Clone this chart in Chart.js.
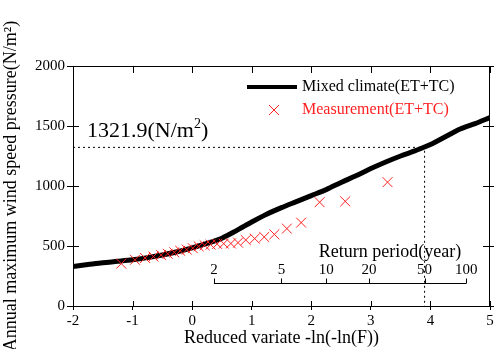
<!DOCTYPE html>
<html><head><meta charset="utf-8">
<script src="https://cdn.jsdelivr.net/npm/chart.js@4"></script>
<style>html,body{margin:0;padding:0;background:#fff}</style>
</head><body>
<canvas id="c" width="498" height="349"></canvas>
<script>
// ---- data ----
const curveX = [-2,-1.75,-1.5,-1.25,-1,-0.75,-0.5,-0.25,0,0.25,0.5,0.75,1,1.25,1.5,1.75,2,2.25,2.5,2.75,3,3.25,3.5,3.75,4,4.25,4.5,4.75,5];
const curveY = [330,345,360,372,385,403,425,452,485,522,565,630,700,765,820,870,920,970,1030,1085,1145,1200,1250,1295,1345,1410,1475,1520,1570];
const measX = [-1.19,-0.96,-0.79,-0.65,-0.52,-0.41,-0.30,-0.20,-0.09,0.01,0.11,0.21,0.31,0.42,0.53,0.65,0.77,0.90,1.05,1.21,1.38,1.59,1.83,2.14,2.57,3.28];
const measY = [353,385,400,412,425,435,447,460,470,482,497,506,512,517,520,521,528,550,562,575,597,645,695,865,872,1032];
const designValue = 1321.9;
const designReturnPeriod = 50;
const returnPeriods = [2,5,10,20,50,100];
const xTicks = [-2,-1,0,1,2,3,4,5];
const yTicks = [0,500,1000,1500,2000];
const curveLabel = 'Mixed climate(ET+TC)';
const measLabel = 'Measurement(ET+TC)';

// reduced variate of a return period (axis mapping)
const gumbel = T => -Math.log(-Math.log(1 - 1/T));
const designX = gumbel(designReturnPeriod);

const SERIF = '"Liberation Serif","Times New Roman",serif';
const RED = '#ff2020';

const decor = {
  id: 'decor',
  afterDatasetsDraw(chart) {
    const ctx = chart.ctx, a = chart.chartArea;
    const xs = chart.scales.x, ys = chart.scales.y;
    ctx.save();
    ctx.strokeStyle = '#000'; ctx.lineWidth = 1;
    // frame
    ctx.strokeRect(a.left + 0.5, a.top + 0.5, a.right - a.left - 1, a.bottom - a.top);
    // inner ticks on all four sides
    ctx.beginPath();
    xTicks.forEach(v => {
      const p = Math.round(xs.getPixelForValue(v)) + 0.5;
      ctx.moveTo(p, a.bottom); ctx.lineTo(p, a.bottom - 5);
      ctx.moveTo(p, a.top); ctx.lineTo(p, a.top + 7);
    });
    yTicks.forEach(v => {
      const p = Math.round(ys.getPixelForValue(v)) + 0.5;
      ctx.moveTo(a.left, p); ctx.lineTo(a.left + 6, p);
      ctx.moveTo(a.right, p); ctx.lineTo(a.right - 7, p);
      ctx.moveTo(a.right, p); ctx.lineTo(a.right + 4, p);
    });
    ctx.stroke();

    // return period axis
    const ly = 283.5;
    const x0 = xs.getPixelForValue(gumbel(returnPeriods[0]));
    const x1 = xs.getPixelForValue(gumbel(returnPeriods[returnPeriods.length - 1]));
    ctx.beginPath();
    ctx.moveTo(x0, ly); ctx.lineTo(x1, ly);
    returnPeriods.forEach(T => {
      const p = Math.round(xs.getPixelForValue(gumbel(T))) + 0.5;
      ctx.moveTo(p, ly); ctx.lineTo(p, ly - 5);
    });
    ctx.stroke();
    ctx.fillStyle = '#000';
    ctx.font = '15px ' + SERIF;
    ctx.textAlign = 'center'; ctx.textBaseline = 'middle';
    returnPeriods.forEach(T => {
      ctx.fillText(String(T), xs.getPixelForValue(gumbel(T)), 270);
    });
    ctx.font = '18px ' + SERIF;
    ctx.fillText('Return period(year)', 390, 252);

    // design value annotation
    ctx.textAlign = 'left'; ctx.textBaseline = 'alphabetic';
    ctx.font = '22px ' + SERIF;
    const base = 137;
    let tx = 87;
    const s1 = designValue.toFixed(1) + '(N/m';
    ctx.fillText(s1, tx, base); tx += ctx.measureText(s1).width;
    ctx.font = '14px ' + SERIF;
    ctx.fillText('2', tx, base - 9); tx += ctx.measureText('2').width;
    ctx.font = '22px ' + SERIF;
    ctx.fillText(')', tx, base);

    // legend
    const d0 = chart.data.datasets[0], d1 = chart.data.datasets[1];
    ctx.font = '16px ' + SERIF;
    ctx.textBaseline = 'middle';
    ctx.strokeStyle = '#000'; ctx.lineWidth = 4;
    ctx.beginPath(); ctx.moveTo(247, 87); ctx.lineTo(297, 87); ctx.stroke();
    ctx.fillStyle = '#000';
    ctx.fillText(d0.label, 302, 87);
    ctx.strokeStyle = RED; ctx.lineWidth = 1;
    ctx.beginPath();
    ctx.moveTo(269, 105); ctx.lineTo(279, 115);
    ctx.moveTo(279, 105); ctx.lineTo(269, 115);
    ctx.stroke();
    ctx.fillStyle = RED;
    ctx.fillText(d1.label, 302, 110);
    ctx.restore();
  }
};

new Chart(document.getElementById('c'), {
  type: 'scatter',
  data: {
    datasets: [
      {
        label: curveLabel,
        data: curveX.map((x, i) => ({x, y: curveY[i]})),
        showLine: true, borderColor: '#000', borderWidth: 5,
        pointRadius: 0, tension: 0.3, order: 2
      },
      {
        label: measLabel,
        data: measX.map((x, i) => ({x, y: measY[i]})),
        showLine: false, pointStyle: 'crossRot', pointRadius: 7,
        borderColor: RED, backgroundColor: RED, borderWidth: 1, order: 1
      },
      {
        label: 'design',
        data: [{x: xTicks[0], y: designValue}, {x: designX, y: designValue}, {x: designX, y: yTicks[0]}],
        showLine: true, borderColor: '#000', borderWidth: 1, borderDash: [2, 3],
        pointRadius: 0, order: 3
      }
    ]
  },
  options: {
    responsive: false, animation: false, devicePixelRatio: 1,
    layout: {padding: {top: 66, right: 5, left: 0, bottom: 0}},
    plugins: {legend: {display: false}, tooltip: {enabled: false}},
    scales: {
      x: {
        type: 'linear', min: -2, max: 5,
        afterBuildTicks: s => { s.ticks = xTicks.map(v => ({value: v})); },
        afterFit: s => { s.height = 43; },
        grid: {drawOnChartArea: false, drawTicks: true, tickLength: 4, color: '#000'},
        border: {display: true, color: '#000', width: 1},
        ticks: {color: '#000', font: {family: SERIF, size: 15}, padding: 2, maxRotation: 0,
                callback: v => String(v)},
        title: {display: true, text: 'Reduced variate -ln(-ln(F))', color: '#000',
                font: {family: SERIF, size: 18}, padding: {top: 0, bottom: 0}}
      },
      y: {
        type: 'linear', min: 0, max: 2000,
        afterBuildTicks: s => { s.ticks = yTicks.map(v => ({value: v})); },
        afterFit: s => { s.width = 73; },
        grid: {drawOnChartArea: false, drawTicks: true, tickLength: 6, color: '#000'},
        border: {display: true, color: '#000', width: 1},
        ticks: {color: '#000', font: {family: SERIF, size: 15}, padding: 2,
                callback: v => String(v)},
        title: {display: true, text: 'Annual maximum wind speed pressure(N/m²)', color: '#000',
                font: {family: SERIF, size: 18}, padding: {top: 0, bottom: 0}}
      }
    }
  },
  plugins: [decor]
});
</script>
</body></html>
